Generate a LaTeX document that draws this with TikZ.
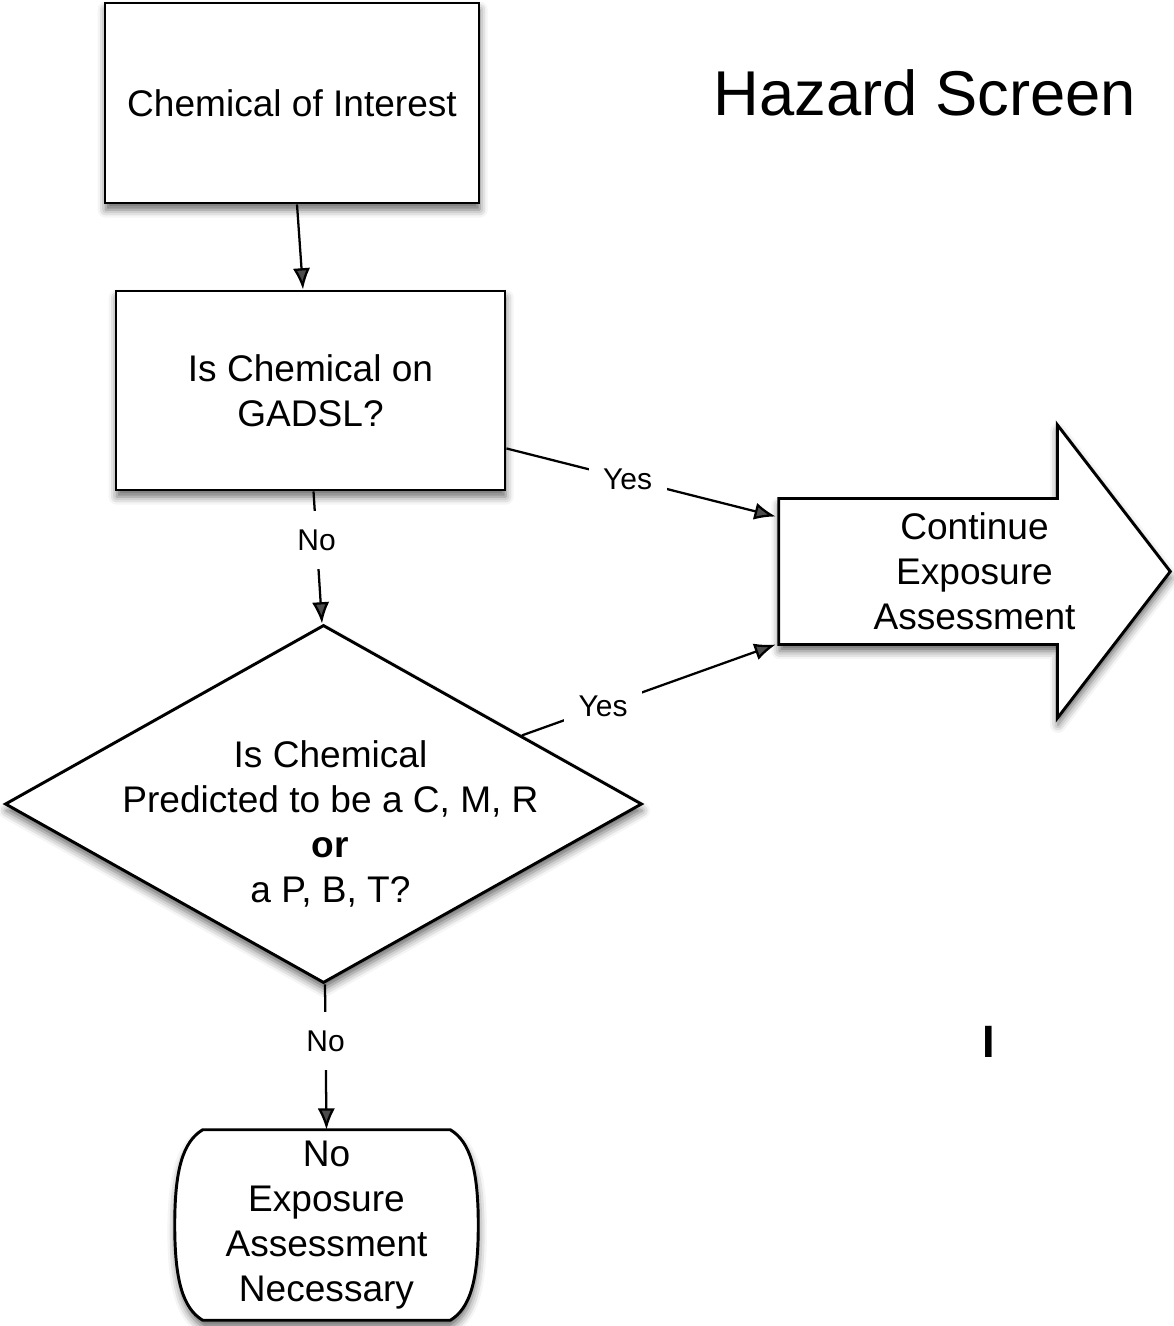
\documentclass[tikz,border=0pt]{standalone}
\usepackage{fontspec}
\setmainfont{Liberation Sans}
\usetikzlibrary{shapes.geometric,arrows.meta,calc,backgrounds,shadows.blur}
\newcommand\fbody{\fontsize{27.8}{33.75}\selectfont}
\newcommand\flabel{\fontsize{22.5}{27}\selectfont}
\newcommand\ftitle{\fontsize{47.5}{57}\selectfont}
\begin{document}
\begin{tikzpicture}[x=0.75pt,y=-0.75pt,
  softshadow/.style={blur shadow={shadow xshift=0.5pt,shadow yshift=-5pt,
      shadow blur radius=6pt,shadow opacity=60}},
  stepbox/.style={draw,line width=2.2pt,fill=white,softshadow,
      align=center,font=\fbody,inner sep=0pt},
  decision/.style={stepbox,shape=diamond},
  plaintext/.style={align=center,font=\fbody,inner sep=0pt},
  outline/.style={draw,line width=2.2pt,fill=white,softshadow,line join=miter},
  conn/.style={line width=1.7pt,-{Latex[length=16pt,width=13pt]}},
  lbl/.style={fill=white,font=\flabel,inner xsep=11pt,inner ysep=14pt}]

\useasboundingbox (0,0) rectangle (1173,1326);

% title
\node[font=\ftitle] (title) at (925,93) {Hazard Screen};

% process steps
\node[stepbox,minimum width=280.5pt,minimum height=150pt] (c1) at (292,103)
  {Chemical of Interest};
\node[stepbox,minimum width=291.75pt,minimum height=149.25pt] (q1) at (310.5,390.5)
  {Is Chemical on\\GADSL?};
\node[decision,minimum width=477.75pt,minimum height=268.5pt] (q2) at (323.5,804) {};
\node[plaintext] (q2t) at ($(q2)+(7,20)$)
  {Is Chemical\\Predicted to be a C, M, R\\\textbf{or}\\a P, B, T?};

% outcome: block arrow
\node[plaintext,minimum width=293.25pt,minimum height=219.75pt] (cont) at (974.5,571.5)
  {Continue\\Exposure\\Assessment};
% outcome: terminator
\node[plaintext,minimum width=227.25pt,minimum height=142.5pt] (stop) at (326.5,1225)
  {No\\Exposure\\Assessment\\Necessary};

\begin{pgfonlayer}{background}
  \draw[outline] ($(cont.west)+(0,-73)$) -- ($(cont.east)+(-113,-73)$)
    -- ($(cont.north east)+(-113,0)$) -- (cont.east)
    -- ($(cont.south east)+(-113,0)$) -- ($(cont.east)+(-113,73)$)
    -- ($(cont.west)+(0,73)$) -- cycle;
  \draw[outline] ($(stop.north west)+(28,0)$) -- ($(stop.north east)+(-28,0)$)
    .. controls ($(stop.north east)+(-8,12)$) and ($(stop.east)+(0,-55)$) .. (stop.east)
    .. controls ($(stop.east)+(0,55)$) and ($(stop.south east)+(-8,-12)$) .. ($(stop.south east)+(-28,0)$)
    -- ($(stop.south west)+(28,0)$)
    .. controls ($(stop.south west)+(8,-12)$) and ($(stop.west)+(0,55)$) .. (stop.west)
    .. controls ($(stop.west)+(0,-55)$) and ($(stop.north west)+(8,12)$) .. cycle;
\end{pgfonlayer}

% connectors
\draw[conn] ($(c1.south)+(5,0)$) -- ($(q1.north)+(-7.5,0)$);
\draw[conn] ($(q1.south)+(3,0)$) -- node[lbl,pos=0.37] {No} ($(q2.north)+(-1.5,0)$);
\draw[conn] ($(q1.south east)+(0,-43)$) -- node[lbl,pos=0.45] {Yes} ($(cont.west)+(-3,-55)$);
\draw[conn] ($(q2.north)!0.62!(q2.east)$) -- node[lbl,pos=0.32] {Yes} ($(cont.west)+(-3,73)$);
\draw[conn] ($(q2.south)+(1.5,0)$) -- node[lbl,pos=0.39] {No} (stop.north);

% stray mark
\node[font=\fontsize{34}{40}\selectfont\bfseries] (mark) at (989,1042) {I};
\end{tikzpicture}
\end{document}
